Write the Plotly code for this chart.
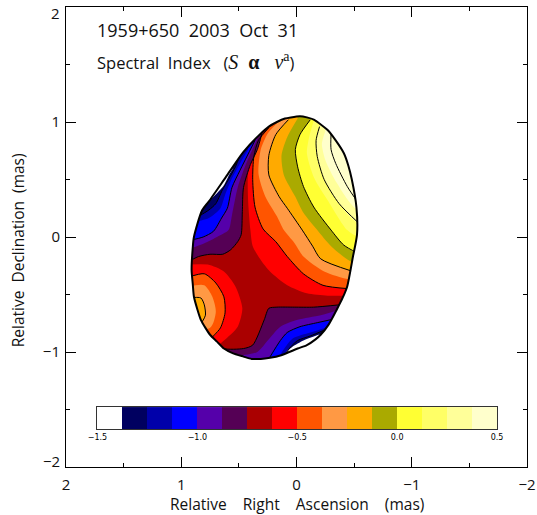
import plotly.graph_objects as go

# Map outline in mas (RA, Dec), clockwise from the top
outline = [(-.03,1.05),(-.09,1.04),(-.15,1.02),(-.27,.93),(-.34,.84),(-.41,.73),(-.45,.62),(-.48,.50),(-.52,.26),(-.525,.02),
 (-.49,-.17),(-.44,-.43),(-.40,-.53),(-.35,-.63),(-.28,-.76),(-.21,-.85),(-.165,-.89),(-.09,-.94),(-.01,-.97),(.14,-1.03),(.23,-1.05),(.31,-1.06),(.39,-1.06),
 (.46,-1.04),(.555,-1.01),(.63,-.97),(.69,-.91),(.75,-.85),(.79,-.79),(.83,-.72),(.86,-.63),(.89,-.52),(.90,-.41),(.91,-.29),(.90,-.09),
 (.89,0),(.82,.23),(.76,.31),(.60,.54),(.46,.74),(.32,.89),(.24,.96),(.17,1.00),(.10,1.03),(.05,1.04)]

# Spectral index contours (RA, Dec)
tr_m0625 = [(.25,.93),(.37,.76),(.42,.56),(.42,.32),(.40,.06),(.38,-.08),(.31,-.20),(.23,-.30),(.08,-.42),(-.09,-.49),(-.27,-.51),(-.46,-.51)]
tr_m05 = [(.24,.95),(.33,.84),(.37,.70),(.38,.50),(.36,.26),(.29,.07),(.18,-.04),(.08,-.17),(-.06,-.32),(-.23,-.42),(-.46,-.45)]
tr_m0375 = [(.17,.99),(.25,.90),(.31,.76),(.33,.55),(.27,.35),(.17,.18),(.11,.06),(.02,-.05),(-.06,-.17),(-.24,-.30),(-.47,-.37)]
tr_m025 = [(.07,1.02),(.18,.89),(.24,.71),(.24,.54),(.15,.35),(.08,.25),(-.05,.06),(-.14,-.08),(-.21,-.19),(-.49,-.30)]
tr_m0125 = [(-.01,1.03),(.08,.87),(.13,.71),(.11,.54),(.01,.35),(-.06,.21),(-.18,.06),(-.30,-.08),(-.51,-.23)]
tr_0 = [(-.12,1.02),(-.03,.89),(.01,.76),(-.01,.61),(-.06,.44),(-.15,.26),(-.30,.06),(-.41,-.07),(-.53,-.14)]
tr_p0125 = [(-.15,1.01),(-.11,.87),(-.09,.73),(-.15,.52),(-.27,.32),(-.44,.06),(-.54,0)]
tr_p025 = [(-.20,.96),(-.17,.84),(-.18,.70),(-.24,.50),(-.37,.29),(-.54,.12)]
tr_p0375 = [(-.25,.92),(-.22,.81),(-.25,.67),(-.35,.47),(-.54,.23)]
tr_p05 = [(-.30,.90),(-.30,.76),(-.34,.64),(-.44,.44),(-.54,.29)]

ul_m075 = [(.30,.90),(.34,.76),(.40,.63),(.46,.43),(.47,.22),(.48,.02),(.51,-.04),(.57,-.11),(.64,-.15),(.75,-.15),(.85,-.17),(.93,-.21)]
ul_m0875 = [(.34,.85),(.44,.63),(.51,.43),(.56,.19),(.59,.06),(.69,0),(.79,-.05),(.93,-.10)]
ul_m1 = [(.36,.84),(.49,.58),(.56,.43),(.60,.25),(.65,.165),(.72,.05),(.81,0),(.93,-.03)]
ul_m1125 = [(.42,.76),(.49,.64),(.56,.51),(.62,.365),(.66,.25),(.76,.165),(.90,.13)]
ul_m125 = [(.49,.71),(.53,.61),(.59,.50),(.645,.405),(.70,.29),(.76,.235),(.83,.19),(.88,.15)]
ul_m1375 = [(.555,.59),(.58,.55),(.63,.45),(.69,.38),(.75,.32),(.79,.29)]

bt_m075 = [(-.37,-.59),(-.15,-.61),(.02,-.61),(.17,-.61),(.24,-.62),(.28,-.72),(.38,-.94),(.46,-.97),(.63,-.97),(.69,-.92)]
bt_m0875 = [(-.38,-.63),(-.21,-.68),(-.01,-.72),(.14,-.78),(.25,-.90),(.34,-1.00),(.49,-1.03),(.57,-1.01)]
bt_m1 = [(-.34,-.71),(-.18,-.745),(-.03,-.78),(.08,-.83),(.14,-.90),(.24,-1.06)]
bt_m1125 = [(-.28,-.78),(-.12,-.83),(.03,-.88),(.095,-.955),(.15,-1.05)]
bt_m125 = [(-.24,-.81),(-.12,-.86),(-.01,-.90),(.05,-.955),(.11,-1.04)]
bt_m1375 = [(-.19,-.85),(-.06,-.90),(.035,-.955),(.10,-1.02)]

lf_m0625 = [(.94,-.24),(.77,-.24),(.63,-.30),(.53,-.43),(.47,-.62),(.51,-.78),(.63,-.90),(.70,-.95)]
lf_m05 = [(.94,-.35),(.80,-.32),(.70,-.40),(.63,-.52),(.62,-.66),(.66,-.79),(.73,-.87)]
lf_m0375 = [(.94,-.43),(.80,-.42),(.73,-.52),(.70,-.65),(.75,-.79)]
lf_m025 = [(.94,-.53),(.83,-.53),(.80,-.59),(.79,-.68),(.82,-.74)]

# Colour scale
scale_edges = [-1.5,-1.375,-1.25,-1.125,-1.0,-.875,-.75,-.625,-.5,-.375,-.25,-.125,0,.125,.25,.375,.5]
scale_colors = ["#ffffff","#000060","#0000aa","#0000ff","#5500aa","#550055","#aa0000","#ff0000","#ff5500",
                "#ff9944","#ffaa00","#aaaa00","#ffff33","#ffff66","#ffff99","#ffffcc"]
scale_ticks = [-1.5,-1.0,-.5,0,.5]
scale_labels = ["−1.5","−1.0","−0.5","0.0","0.5"]
x_ticks = [2,1,0,-1,-2]
x_labels = ["2","1","0","−1","−2"]
y_ticks = [1,0,-1]
y_labels = ["1","0","−1"]

C = dict(zip([round(e,3) for e in scale_edges[:-1]], scale_colors))
far = 1.3
FONT = "Open Sans"
SM = dict(shape="spline", smoothing=0.7)

fig = go.Figure()

def xs(c): return [p[0] for p in c]
def ys(c): return [p[1] for p in c]
def fill(poly, color):
    fig.add_trace(go.Scatter(x=xs(poly), y=ys(poly), mode="lines", fill="toself", fillcolor=color,
                             line=dict(width=0, **SM), hoverinfo="skip", showlegend=False))
def line(c, w=1):
    fig.add_trace(go.Scatter(x=xs(c), y=ys(c), mode="lines", line=dict(color="black", width=w, **SM),
                             hoverinfo="skip", showlegend=False))

# base band
fill(outline, C[-.75])

# each band paints everything on the far side of its lower contour
for c, lev in [(tr_m0625,-.625),(tr_m05,-.5),(tr_m0375,-.375),(tr_m025,-.25),(tr_m0125,-.125),(tr_0,0),
               (tr_p0125,.125),(tr_p025,.25),(tr_p0375,.375)]:
    fill(c + [(-far, c[-1][1]), (-far, far), (c[0][0], far)], C[lev])
for c, lev in [(ul_m075,-.875),(ul_m0875,-1.0),(ul_m1,-1.125),(ul_m1125,-1.25),(ul_m125,-1.375),(ul_m1375,-1.5)]:
    fill(c + [(far, c[-1][1]), (far, far), (c[0][0], far)], C[lev])
for c, lev in [(bt_m075,-.875),(bt_m0875,-1.0),(bt_m1,-1.125),(bt_m1125,-1.25),(bt_m125,-1.375),(bt_m1375,-1.5)]:
    fill(c + [(c[-1][0], -far), (-far, -far), (-far, c[0][1])], C[lev])
for c, lev in [(lf_m0625,-.625),(lf_m05,-.5),(lf_m0375,-.375),(lf_m025,-.25)]:
    fill(c + [(far, c[-1][1]), (far, c[0][1])], C[lev])

for c in [tr_m05,tr_m025,tr_0,tr_p025,tr_p05,ul_m075,ul_m1,ul_m125,bt_m075,bt_m1,bt_m125,lf_m05,lf_m025]:
    line(c)

# white surround, hole follows the map outline
closed = outline + outline[:1]
rev = closed[::-1]
fig.add_trace(go.Scatter(x=[2.3,-2.3,-2.3,2.3,2.3,None]+xs(rev), y=[2.3,2.3,-2.3,-2.3,2.3,None]+ys(rev), mode="lines", fill="toself",
                         fillcolor="white", line=dict(width=0, **SM), hoverinfo="skip", showlegend=False))
line(closed, 2)

# colour scale strip
n = len(scale_colors)
cs = []
for i, col in enumerate(scale_colors):
    cs += [[i/n, col], [(i+1)/n, col]]
fig.add_trace(go.Heatmap(x=scale_edges, y=[0,1], z=[list(range(n))], zmin=-.5, zmax=n-.5, colorscale=cs,
                         showscale=False, hoverinfo="skip", xaxis="x2", yaxis="y2"))

W, H = 537, 515
L, R, T, B = 65.5, 10, 6.5, 48
pw, ph = W-L-R, H-T-B
INK = "#111111"
TXT = dict(family=FONT, size=15.5, weight=400, color=INK)
TICK = dict(family=FONT, size=15, weight=400, color=INK)
def ax(vals, labels, **k):
    return dict(showgrid=False, zeroline=False, showline=True, mirror="allticks", linecolor="black", linewidth=1,
                ticks="inside", tickcolor="black", ticklen=10, tickwidth=1, ticklabeloverflow="allow",
                tickmode="array", tickvals=vals, ticktext=labels,
                minor=dict(ticks="inside", ticklen=4, tickcolor="black", tickwidth=1, tickvals=[1.5,.5,-.5,-1.5]),
                tickfont=TICK, **k)
def px(x): return (x-L)/pw
def py(y): return (467-y)/ph

fig.update_layout(
    width=W, height=H, autosize=False, margin=dict(l=L, r=R, t=T, b=B, autoexpand=False),
    paper_bgcolor="white", plot_bgcolor="white", showlegend=False,
    xaxis=ax(x_ticks, x_labels, range=[2,-2], ticklabelstandoff=4),
    yaxis=ax(y_ticks, y_labels, range=[-2,2], ticklabelstandoff=2),
    xaxis2=dict(domain=[px(97),px(497)], range=[-1.5,.5], anchor="y2", showgrid=False, zeroline=False,
                showline=True, mirror=True, linecolor="#333333", linewidth=1, ticks="",
                tickmode="array", tickvals=scale_ticks, ticktext=scale_labels,
                tickfont=dict(family="DejaVu Sans", size=8, color="black")),
    yaxis2=dict(domain=[py(429),py(407)], range=[0,1], anchor="x2", showgrid=False, zeroline=False,
                showline=True, mirror=True, linecolor="#333333", linewidth=1, showticklabels=False, ticks=""),
    annotations=[
        dict(text="1959+650  2003  Oct  31", xref="paper", yref="paper", x=px(95), y=py(30), xanchor="left",
             yanchor="middle", showarrow=False, font=dict(family=FONT, size=18, weight=400, color=INK)),
        dict(text='Spectral  Index   (<span style="font-family:Liberation Serif;font-size:20px"><i>S</i>  <b>α</b>   <i>ν</i><sup>a</sup></span>)',
             xref="paper", yref="paper", x=px(95), y=py(61), xanchor="left", yanchor="middle", showarrow=False,
             font=dict(family=FONT, size=16.5, weight=400, color=INK)),
        dict(text="Relative    Right    Ascension    (mas)", xref="paper", yref="paper", x=px(297), y=py(504), xanchor="center",
             yanchor="middle", showarrow=False, font=TXT),
        dict(text="Relative  Declination  (mas)", xref="paper", yref="paper", x=px(17), y=py(250.5), textangle=-90,
             xanchor="center", yanchor="middle", showarrow=False, font=TXT),
        dict(text="2", xref="paper", yref="paper", x=px(61), y=py(12.5), xanchor="right", yanchor="middle",
             showarrow=False, font=TICK),
        dict(text="−2", xref="paper", yref="paper", x=px(61), y=py(460.5), xanchor="right", yanchor="middle",
             showarrow=False, font=TICK),
    ],
)
fig.write_html("out.html", config={"displayModeBar": False},
               post_script="document.body.style.margin='0';document.documentElement.style.overflow='hidden';")
